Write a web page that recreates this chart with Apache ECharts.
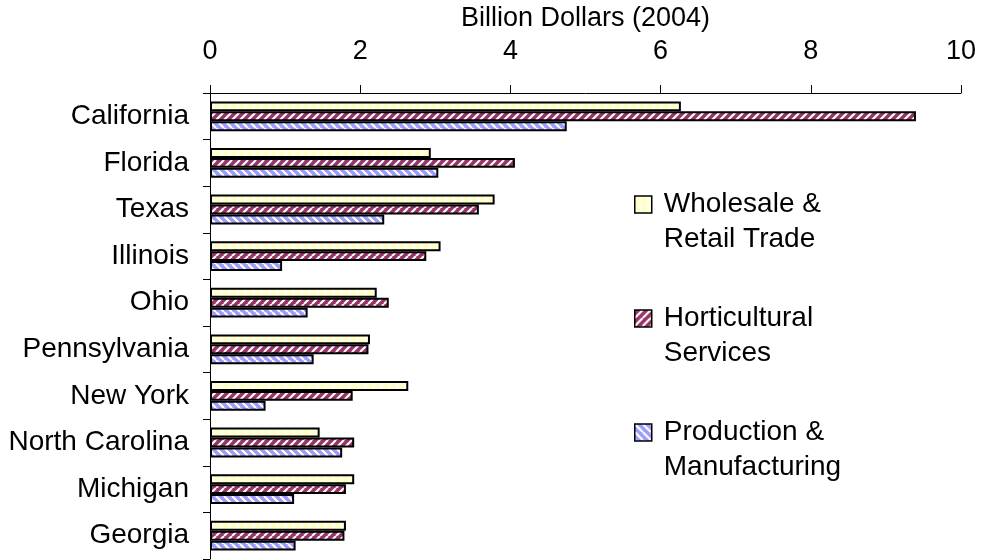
<!DOCTYPE html>
<html>
<head>
<meta charset="utf-8" />
<title>Billion Dollars (2004)</title>
<script src="https://cdn.jsdelivr.net/npm/echarts@6/dist/echarts.min.js"></script>
<style>
  html, body { margin: 0; padding: 0; background: #fff; }
  #chart { width: 982px; height: 560px; }
</style>
</head>
<body>
<div id="chart"></div>
<script>
  // data
  var states = ['California', 'Florida', 'Texas', 'Illinois', 'Ohio', 'Pennsylvania',
    'New York', 'North Carolina', 'Michigan', 'Georgia'];
  var wholesale = [6.27, 2.94, 3.79, 3.07, 2.22, 2.13, 2.64, 1.46, 1.92, 1.81];
  var horticultural = [9.40, 4.06, 3.58, 2.88, 2.38, 2.11, 1.90, 1.92, 1.81, 1.79];
  var production = [4.75, 3.04, 2.32, 0.96, 1.30, 1.38, 0.74, 1.76, 1.12, 1.14];
  var seriesNames = ['Wholesale &\nRetail Trade', 'Horticultural\nServices', 'Production &\nManufacturing'];
  var xTicks = [0, 2, 4, 6, 8, 10];

  // hatch patterns
  function stripes(bg, fg, dir) {
    var c = document.createElement('canvas');
    var s = 8;
    c.width = s; c.height = s;
    var ctx = c.getContext('2d');
    ctx.fillStyle = bg;
    ctx.fillRect(0, 0, s, s);
    ctx.strokeStyle = fg;
    ctx.lineWidth = 2.2;
    ctx.beginPath();
    if (dir === 'v') {
      ctx.fillStyle = fg;
      ctx.fillRect(4, 0, 3, s);
    } else if (dir === '/') {
      for (var k = -1; k <= 1; k++) {
        ctx.moveTo(k * s, s);
        ctx.lineTo(k * s + s, 0);
      }
      ctx.stroke();
    } else {
      for (var k2 = -1; k2 <= 1; k2++) {
        ctx.moveTo(k2 * s, 0);
        ctx.lineTo(k2 * s + s, s);
      }
      ctx.stroke();
    }
    return { image: c, repeat: 'repeat' };
  }

  var fills = [
    stripes('#FFFFC4', '#FFFFF0', 'v'),
    stripes('#993366', '#ffffff', '/'),
    stripes('#9C9CFF', '#ffffff', '\\')
  ];
  var lists = [wholesale, horticultural, production];

  var font = 'Liberation Sans, Arial, sans-serif';
  var lineH = 35;

  var series = seriesNames.map(function(name, i) {
    return {
      name: name,
      type: 'bar',
      data: lists[i],
      barGap: '0%',
      barCategoryGap: '36%',
      itemStyle: {
        color: fills[i],
        borderColor: '#000',
        borderWidth: 2
      }
    };
  });

  var chart = echarts.init(document.getElementById('chart'));
  chart.setOption({
    animation: false,
    backgroundColor: '#fff',
    textStyle: { fontFamily: font },
    grid: { left: 210, right: 21, top: 92, bottom: 1 },
    legend: {
      orient: 'vertical',
      left: 634,
      top: 152,
      padding: 0,
      icon: 'rect',
      itemWidth: 17,
      itemHeight: 17,
      itemGap: 9,
      selectedMode: false,
      itemStyle: { borderColor: '#000', borderWidth: 1.5 },
      // blank first line so the box sits beside the first line of the name
      formatter: function(name) { return '\n' + name; },
      textStyle: { fontSize: 28, color: '#000', lineHeight: lineH, padding: [0, 0, 0, 7], fontFamily: font },
      data: seriesNames
    },
    xAxis: {
      type: 'value',
      position: 'top',
      min: xTicks[0],
      max: xTicks[xTicks.length - 1],
      interval: 2,
      name: 'Billion Dollars (2004)',
      nameLocation: 'middle',
      nameGap: 61,
      nameTextStyle: { fontSize: 27, color: '#000', fontFamily: font },
      axisLine: { show: true, lineStyle: { color: '#000', width: 1 } },
      axisTick: { show: true, length: 8, lineStyle: { color: '#000' } },
      axisLabel: { fontSize: 27, color: '#000', margin: 28, fontFamily: font },
      splitLine: { show: false }
    },
    yAxis: {
      type: 'category',
      inverse: true,
      data: states,
      axisLine: { show: true, lineStyle: { color: '#000', width: 1 } },
      axisTick: { show: true, length: 7, lineStyle: { color: '#000' } },
      axisLabel: { fontSize: 28, color: '#000', margin: 21, fontFamily: font }
    },
    series: series
  });
</script>
</body>
</html>
